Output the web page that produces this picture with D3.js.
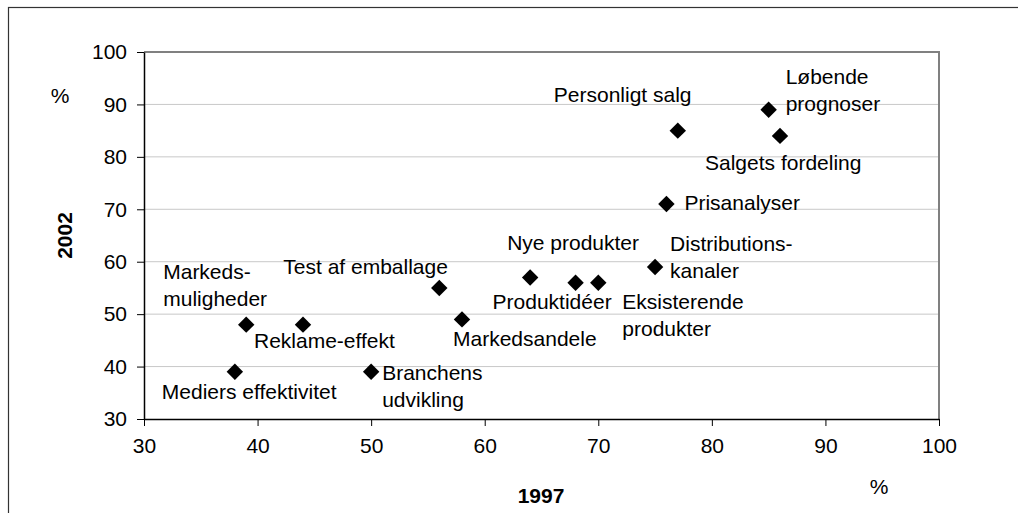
<!DOCTYPE html>
<html>
<head>
<meta charset="utf-8">
<script src="https://cdn.jsdelivr.net/npm/d3@7"></script>
<style>
  body { margin: 0; background: #fff; }
  text { font-family: Arial, "Liberation Sans", sans-serif; fill: #000; }
</style>
</head>
<body>
<script>
var width = 1018,
  height = 513;

// 1997 vs 2002 share (%)
var names = ["Mediers effektivitet", "Markedsmuligheder", "Reklame-effekt", "Branchens udvikling",
  "Test af emballage", "Markedsandele", "Nye produkter", "Produktidéer", "Eksisterende produkter",
  "Distributionskanaler", "Prisanalyser", "Personligt salg", "Løbende prognoser", "Salgets fordeling"];
var x1997 = [38, 39, 44, 50, 56, 58, 64, 68, 70, 75, 76, 77, 85, 86];
var y2002 = [39, 48, 48, 39, 55, 49, 57, 56, 56, 59, 71, 85, 89, 84];
var xTicks = [30, 40, 50, 60, 70, 80, 90, 100];
var yTicks = [30, 40, 50, 60, 70, 80, 90, 100];

// label lines and placement (pixel offset from the marker: left edge, first baseline)
var labelLines = [["Mediers effektivitet"], ["Markeds-", "muligheder"], ["Reklame-effekt"], ["Branchens", "udvikling"],
  ["Test af emballage"], ["Markedsandele"], ["Nye produkter"], ["Produktidéer"], ["Eksisterende", "produkter"],
  ["Distributions-", "kanaler"], ["Prisanalyser"], ["Personligt salg"], ["Løbende", "prognoser"], ["Salgets fordeling"]];
var labelDx = [-73, -83, -49, 11, -156, -9, -23, -83, 24, 15, 18, -124, 17, -75];
var labelDy = [27, -46, 23, 8, -14, 27, -27, 26, 26, -16, 6, -29, -26, 34];

var points = names.map(function(n, i) {
  return {name: n, x: x1997[i], y: y2002[i], lines: labelLines[i], dx: labelDx[i], dy: labelDy[i]};
});

var margin = {left: 144, top: 52, right: 79, bottom: 94};

var x = d3.scaleLinear().domain([30, 100]).range([margin.left, width - margin.right]);
var y = d3.scaleLinear().domain([30, 100]).range([height - margin.bottom, margin.top]);

var svg = d3.select("body").append("svg")
  .attr("width", width)
  .attr("height", height);

// outer frame
svg.append("rect")
  .attr("x", 8.5).attr("y", 7.5)
  .attr("width", width + 20).attr("height", height + 20)
  .attr("fill", "none").attr("stroke", "#333").attr("stroke-width", 1.2);

// gridlines
svg.append("g").selectAll("line")
  .data(yTicks.filter(function(d) { return d > 30 && d < 100; }))
  .enter().append("line")
  .attr("x1", x(30)).attr("x2", x(100))
  .attr("y1", function(d) { return y(d); }).attr("y2", function(d) { return y(d); })
  .attr("stroke", "#c8c8c8").attr("stroke-width", 1);

// top and right plot border
svg.append("path")
  .attr("d", "M" + x(30) + "," + y(100) + "H" + x(100) + "V" + y(30))
  .attr("fill", "none").attr("stroke", "#808080").attr("stroke-width", 2);

var xAxis = svg.append("g")
  .attr("transform", "translate(0," + y(30) + ")")
  .call(d3.axisBottom(x).tickValues(xTicks).tickSize(7).tickPadding(12).tickSizeOuter(0));

var yAxis = svg.append("g")
  .attr("transform", "translate(" + x(30) + ",0)")
  .call(d3.axisLeft(y).tickValues(yTicks).tickSize(7).tickPadding(10).tickSizeOuter(0));

[xAxis, yAxis].forEach(function(g) {
  g.select(".domain").attr("stroke", "#000").attr("stroke-width", 1.5);
  g.selectAll(".tick line").attr("stroke", "#000").attr("stroke-width", 1);
  g.selectAll(".tick text").attr("font-size", 21).attr("font-family", "Arial, 'Liberation Sans', sans-serif").attr("fill", "#000");
});

// markers
svg.append("g").selectAll("path")
  .data(points)
  .enter().append("path")
  .attr("d", d3.symbol().type(d3.symbolSquare).size(135))
  .attr("transform", function(d) { return "translate(" + x(d.x) + "," + y(d.y) + ")rotate(45)"; })
  .attr("fill", "#000");

// point labels
var labels = svg.append("g").selectAll("text")
  .data(points)
  .enter().append("text")
  .attr("font-size", 21)
  .attr("x", function(d) { return x(d.x) + d.dx; })
  .attr("y", function(d) { return y(d.y) + d.dy; });

labels.selectAll("tspan")
  .data(function(d) { return d.lines.map(function(l) { return {text: l, x: x(d.x) + d.dx}; }); })
  .enter().append("tspan")
  .attr("x", function(t) { return t.x; })
  .attr("dy", function(t, i) { return i ? 27 : 0; })
  .text(function(t) { return t.text; });

// axis titles
svg.append("text")
  .attr("transform", "translate(72," + (y(65)) + ")rotate(-90)")
  .attr("text-anchor", "middle")
  .attr("font-size", 21).attr("font-weight", "bold")
  .text("2002");

svg.append("text")
  .attr("x", 60).attr("y", 103)
  .attr("text-anchor", "middle")
  .attr("font-size", 21)
  .text("%");

svg.append("text")
  .attr("x", 541).attr("y", 503)
  .attr("text-anchor", "middle")
  .attr("font-size", 21).attr("font-weight", "bold")
  .text("1997");

svg.append("text")
  .attr("x", 879).attr("y", 494)
  .attr("text-anchor", "middle")
  .attr("font-size", 21)
  .text("%");
</script>
</body>
</html>
